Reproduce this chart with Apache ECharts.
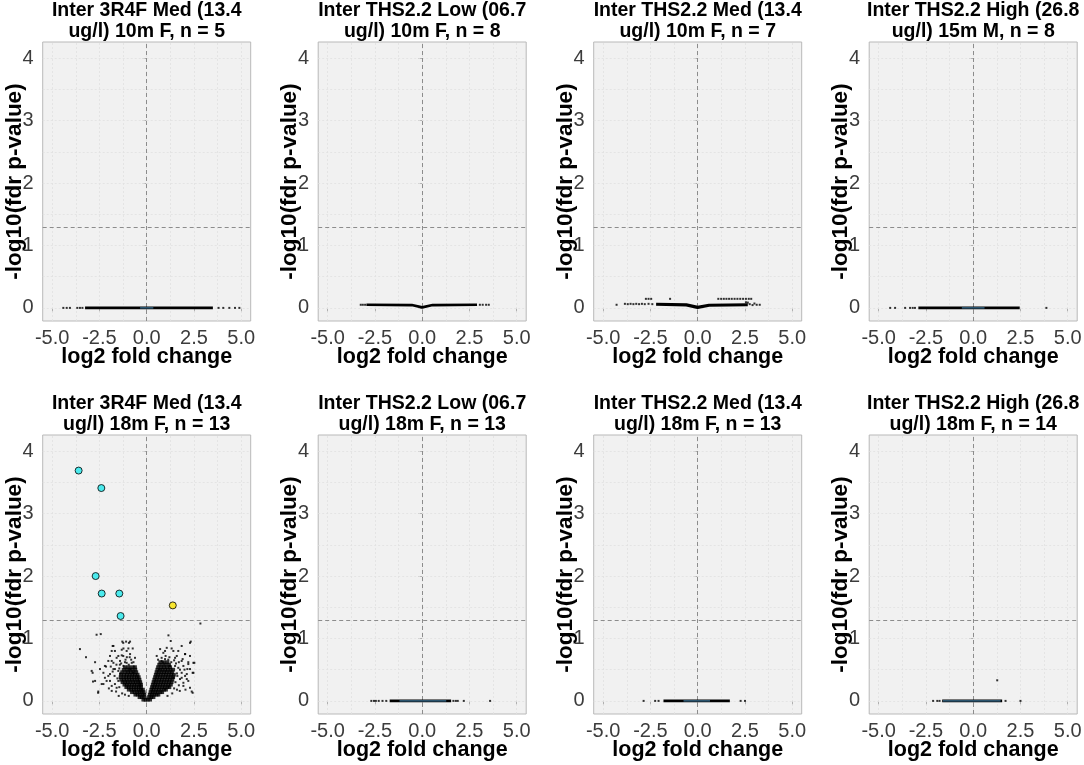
<!DOCTYPE html>
<html><head><meta charset="utf-8">
<script src="https://cdn.jsdelivr.net/npm/echarts@6/dist/echarts.min.js"></script>
<style>html,body{margin:0;padding:0;background:#fff}#c{width:1084px;height:765px}</style>
</head><body><div id="c"></div><script>
// ---------------- data ----------------
const panelTitles = [
  "Inter 3R4F Med (13.4\nug/l) 10m F, n = 5",
  "Inter THS2.2 Low (06.7\nug/l) 10m F, n = 8",
  "Inter THS2.2 Med (13.4\nug/l) 10m F, n = 7",
  "Inter THS2.2 High (26.8\nug/l) 15m M, n = 8",
  "Inter 3R4F Med (13.4\nug/l) 18m F, n = 13",
  "Inter THS2.2 Low (06.7\nug/l) 18m F, n = 13",
  "Inter THS2.2 Med (13.4\nug/l) 18m F, n = 13",
  "Inter THS2.2 High (26.8\nug/l) 18m F, n = 14"
];
const xTitle = "log2 fold change";
const yTitle = "-log10(fdr p-value)";
const xTicks = [-5, -2.5, 0, 2.5, 5];
const yTicks = [0, 1, 2, 3, 4];
const xMinorGrid = [-3.75, -1.25, 1.25, 3.75];
const yMinorGrid = [0.5, 1.5, 2.5, 3.5];
const xRange = [-5.5, 5.5];
const yRange = [-0.21, 4.26];
const fcLine = 0;
const sigLine = 1.3;

// panel 1
const p1Dense = [[-3.26, 0], [3.5, 0]];
const p1Sparse = [[-4.41, 0], [-4.23, 0], [-4.06, 0], [-3.67, 0], [-3.53, 0], [-3.4, 0], [3.8, 0], [4.05, 0], [4.37, 0], [4.67, 0], [4.9, 0]];
const p1Blue = [[-0.35, 0], [0.35, 0]];
// panel 2
const p2Dense = [[-2.95, 0.05], [-0.55, 0.045], [0, 0.008], [0.55, 0.045], [2.9, 0.05]];
const p2Sparse = [[-3.25, 0.05], [-3.14, 0.05], [-3.02, 0.05], [3.05, 0.05], [3.2, 0.05], [3.38, 0.05], [3.52, 0.05]];
// panel 3
const p3Dense = [[-2.2, 0.058], [-0.6, 0.048], [0, 0.008], [0.6, 0.042], [2.65, 0.05]];
const p3Sparse = [[-4.29, 0.05], [-3.85, 0.065], [-3.7, 0.06], [-3.55, 0.065], [-3.4, 0.06], [-3.25, 0.065], [-3.1, 0.06], [-2.95, 0.065], [-2.8, 0.06], [-2.6, 0.065], [-2.4, 0.06],
  [2.75, 0.06], [2.9, 0.045], [3.0, 0.07], [3.12, 0.05], [3.28, 0.05], [2.55, 0.09], [2.65, 0.085],
  [-2.74, 0.145], [-2.6, 0.145], [-2.46, 0.145], [-1.46, 0.145], [1.09, 0.145], [1.24, 0.145], [1.38, 0.145], [1.52, 0.145], [1.66, 0.145], [1.8, 0.145], [1.95, 0.145], [2.1, 0.145], [2.25, 0.145], [2.4, 0.145], [2.55, 0.145], [2.7, 0.145], [2.83, 0.145]];
// panel 4
const p4Dense = [[-2.9, 0], [2.46, 0]];
const p4Sparse = [[-4.39, 0], [-4.13, 0], [-3.6, 0], [-3.34, 0], [-3.2, 0], [-3.08, 0], [3.87, 0]];
const p4Blue = [[-0.6, 0], [0.6, 0]];
// panel 5
const p5Down = [[-3.6, 3.69], [-2.4, 3.41], [-2.7, 2.0], [-2.38, 1.72], [-1.45, 1.72], [-1.38, 1.36]];
const p5Up = [[1.38, 1.53]];
const p5Core = [
  [-0.18, 0.02], [-0.06, 0.02], [0.06, 0.02], [0.18, 0.02],
  [-0.38, 0.06], [-0.26, 0.06], [-0.14, 0.06], [0.12, 0.06], [0.24, 0.06], [0.36, 0.06],
  [-0.6, 0.10], [-0.48, 0.10], [-0.36, 0.10], [-0.22, 0.10], [-0.12, 0.10], [0.16, 0.10], [0.28, 0.10], [0.4, 0.10], [0.52, 0.10], [0.62, 0.10],
  [-0.78, 0.14], [-0.64, 0.14], [-0.5, 0.14], [-0.38, 0.14], [-0.26, 0.14], [-0.16, 0.14], [0.2, 0.14], [0.32, 0.14], [0.45, 0.14], [0.58, 0.14], [0.72, 0.14], [0.82, 0.14],
  [-0.95, 0.18], [-0.82, 0.18], [-0.68, 0.18], [-0.55, 0.18], [-0.42, 0.18], [-0.3, 0.18], [-0.2, 0.18], [0.24, 0.18], [0.36, 0.18], [0.5, 0.18], [0.64, 0.18], [0.78, 0.18], [0.92, 0.18], [1.02, 0.18],
  [-1.08, 0.22], [-0.95, 0.22], [-0.82, 0.22], [-0.68, 0.22], [-0.55, 0.22], [-0.42, 0.22], [-0.3, 0.22], [0.28, 0.22], [0.4, 0.22], [0.54, 0.22], [0.68, 0.22], [0.82, 0.22], [0.96, 0.22], [1.1, 0.22], [1.2, 0.22],
  [-1.18, 0.26], [-1.05, 0.26], [-0.92, 0.26], [-0.78, 0.26], [-0.65, 0.26], [-0.52, 0.26], [-0.38, 0.26], [-0.3, 0.26], [0.32, 0.26], [0.45, 0.26], [0.58, 0.26], [0.72, 0.26], [0.86, 0.26], [1.0, 0.26], [1.14, 0.26], [1.28, 0.26],
  [-1.28, 0.30], [-1.14, 0.30], [-1.0, 0.30], [-0.86, 0.30], [-0.72, 0.30], [-0.58, 0.30], [-0.45, 0.30], [-0.34, 0.30], [0.36, 0.30], [0.48, 0.30], [0.62, 0.30], [0.76, 0.30], [0.9, 0.30], [1.04, 0.30], [1.18, 0.30], [1.32, 0.30],
  [-1.35, 0.34], [-1.2, 0.34], [-1.06, 0.34], [-0.92, 0.34], [-0.78, 0.34], [-0.64, 0.34], [-0.5, 0.34], [-0.38, 0.34], [0.4, 0.34], [0.52, 0.34], [0.66, 0.34], [0.8, 0.34], [0.94, 0.34], [1.08, 0.34], [1.22, 0.34], [1.36, 0.34],
  [-1.38, 0.38], [-1.22, 0.38], [-1.08, 0.38], [-0.94, 0.38], [-0.8, 0.38], [-0.66, 0.38], [-0.52, 0.38], [-0.42, 0.38], [0.44, 0.38], [0.56, 0.38], [0.7, 0.38], [0.84, 0.38], [0.98, 0.38], [1.12, 0.38], [1.26, 0.38], [1.4, 0.38],
  [-1.36, 0.42], [-1.2, 0.42], [-1.05, 0.42], [-0.9, 0.42], [-0.76, 0.42], [-0.62, 0.42], [-0.48, 0.42], [0.48, 0.42], [0.6, 0.42], [0.74, 0.42], [0.88, 0.42], [1.02, 0.42], [1.16, 0.42], [1.3, 0.42], [1.44, 0.42],
  [-1.3, 0.46], [-1.12, 0.46], [-0.98, 0.46], [-0.84, 0.46], [-0.7, 0.46], [-0.55, 0.46], [0.52, 0.46], [0.64, 0.46], [0.78, 0.46], [0.92, 0.46], [1.06, 0.46], [1.2, 0.46], [1.34, 0.46],
  [-1.22, 0.50], [-1.05, 0.50], [-0.9, 0.50], [-0.75, 0.50], [-0.6, 0.50], [0.56, 0.50], [0.7, 0.50], [0.84, 0.50], [0.98, 0.50], [1.12, 0.50], [1.26, 0.50], [1.4, 0.50],
  [-1.15, 0.54], [-0.98, 0.54], [-0.8, 0.54], [-0.62, 0.54], [0.6, 0.54], [0.76, 0.54], [0.92, 0.54], [1.08, 0.54], [1.24, 0.54],
  [0.66, 0.58], [0.84, 0.58], [1.0, 0.58], [1.18, 0.58], [0.72, 0.62], [0.92, 0.62], [1.1, 0.62]
];
const p5Sparse = [
  [-2.65, 1.06], [-2.43, 1.07], [-3.53, 0.83], [-3.21, 0.70], [-2.73, 0.62], [-2.86, 0.45], [-2.84, 0.31], [-2.57, 0.13],
  [-2.15, 0.55], [-2.03, 0.40], [-1.85, 0.64], [-1.80, 0.88], [-1.68, 0.80], [-1.29, 0.95], [-1.09, 0.95], [-0.88, 0.95],
  [-1.23, 0.84], [-0.97, 0.84], [-0.74, 0.84], [-1.50, 0.72], [-1.32, 0.73], [-1.06, 0.61], [-0.79, 0.61], [-0.62, 0.69],
  [-1.76, 0.51], [-1.94, 0.32], [-1.68, 0.27], [-2.29, 0.27], [-1.50, 0.48], [-1.23, 0.56], [-0.88, 0.51], [-0.71, 0.45],
  [-1.24, 0.93], [-0.94, 0.93], [-1.76, 0.88], [-1.85, 0.80], [-1.32, 0.82], [-1.06, 0.80], [-1.94, 0.72], [-1.59, 0.69],
  [-1.24, 0.72], [-0.88, 0.75], [-2.03, 0.64], [-1.76, 0.61], [-1.41, 0.64], [-2.21, 0.56], [-2.47, 0.51], [-2.91, 0.48],
  [-2.73, 0.32], [-2.29, 0.45], [-1.94, 0.43], [-1.68, 0.51], [-2.12, 0.32], [-2.38, 0.27], [-2.56, 0.15], [-1.85, 0.24],
  [-1.85, 0.16], [-1.5, 0.32], [-1.59, 0.21], [-2.21, 0.37], [-1.42, 0.58], [-1.12, 0.66], [-0.7, 0.62],
  [-1.6, 0.58], [-1.45, 0.52], [-1.35, 0.6], [-1.15, 0.62], [-0.95, 0.58], [-0.82, 0.66], [-0.68, 0.55], [-1.05, 0.7],
  [-1.7, 0.4], [-1.55, 0.36], [-1.9, 0.55], [-1.62, 0.15], [-1.45, 0.22], [-1.3, 0.12], [-2.0, 0.2], [-0.9, 0.7],
  [-1.8, 0.47], [-1.4, 0.44], [-1.15, 0.1], [-1.48, 0.08], [-0.95, 0.08],
  [2.84, 1.24], [1.15, 1.05], [1.27, 0.96], [2.33, 0.95], [2.52, 0.61], [2.43, 0.45], [2.43, 0.13], [1.06, 0.85],
  [1.41, 0.80], [1.59, 0.72], [1.85, 0.88], [1.90, 0.67], [2.03, 0.75], [2.20, 0.59], [2.15, 0.51], [0.79, 0.64],
  [0.97, 0.67], [1.23, 0.56], [1.50, 0.56], [1.76, 0.50], [2.03, 0.40], [1.76, 0.35], [1.94, 0.29], [2.12, 0.35],
  [0.67, 0.51], [1.41, 0.37], [0.53, 0.72], [0.88, 0.77], [2.29, 0.93], [0.71, 0.83], [0.97, 0.80], [1.32, 0.84],
  [1.67, 0.80], [2.03, 0.75], [2.29, 0.72], [0.79, 0.69], [1.14, 0.66], [1.5, 0.69], [1.85, 0.64], [2.2, 0.62],
  [2.47, 0.61], [1.94, 0.56], [2.29, 0.51], [1.67, 0.53], [2.12, 0.43], [2.47, 0.45], [1.85, 0.37], [2.2, 0.32],
  [1.94, 0.24], [2.29, 0.21], [2.38, 0.15], [1.6, 0.44], [1.7, 0.25], [0.6, 0.66],
  [1.55, 0.6], [1.7, 0.62], [1.62, 0.4], [1.52, 0.3], [1.45, 0.2], [1.6, 0.18], [1.3, 0.62], [1.45, 0.65],
  [1.85, 0.45], [2.0, 0.5], [1.2, 0.7], [1.0, 0.72], [0.85, 0.62], [1.75, 0.16], [2.05, 0.18], [1.35, 0.12], [1.1, 0.08]
];
// panel 6
const p6Dense = [[-1.72, 0], [1.53, 0]];
const p6Sparse = [[-2.69, 0], [-2.55, 0], [-2.45, 0], [-2.3, 0], [-2.1, 0], [-1.9, 0], [1.65, 0], [1.78, 0], [1.88, 0], [2.2, 0], [3.59, 0]];
const p6Blue = [[-1.2, 0], [1.27, 0]];
// panel 7
const p7Dense = [[-1.81, 0], [1.70, 0]];
const p7Sparse = [[-2.86, 0], [-2.25, 0], [-2.07, 0], [2.27, 0], [2.5, 0]];
const p7Blue = [[-0.75, 0], [0.65, 0]];
// panel 8
const p8Dense = [[-1.64, 0], [1.53, 0]];
const p8Sparse = [[-2.12, 0], [-1.9, 0], [-1.78, 0], [1.71, 0], [2.5, 0], [1.27, 0.33]];
const p8Blue = [[-1.6, 0], [1.45, 0]];

const panels = [
  {dense: p1Dense, sparse: p1Sparse, blue: p1Blue},
  {dense: p2Dense, sparse: p2Sparse},
  {dense: p3Dense, sparse: p3Sparse, thick: true},
  {dense: p4Dense, sparse: p4Sparse, blue: p4Blue},
  {core: p5Core, sparse: p5Sparse, down: p5Down, up: p5Up},
  {dense: p6Dense, sparse: p6Sparse, blue: p6Blue},
  {dense: p7Dense, sparse: p7Sparse, blue: p7Blue},
  {dense: p8Dense, sparse: p8Sparse, blue: p8Blue}
];

// ---------------- layout / style ----------------
const FONT = '"Liberation Sans", Arial, Helvetica, sans-serif';
const colLeft = [42.7, 318.2, 593.7, 869.2];
const plotW = 208;
const rowTop = [42, 435];
const plotH = 279;

const grids = [], xAxes = [], yAxes = [], series = [], graphics = [];
panels.forEach((p, i) => {
  const r = Math.floor(i / 4), c = i % 4;
  const left = colLeft[c], top = rowTop[r];
  grids.push({left: left, top: top, width: plotW, height: plotH, containLabel: false, outerBoundsMode: 'none',
    show: true, backgroundColor: '#f1f1f1', borderColor: '#b9b9b9', borderWidth: 1});
  xAxes.push({gridIndex: i, type: 'value', min: xRange[0], max: xRange[1],
    axisLine: {show: false},
    axisTick: {show: true, customValues: xTicks, length: 4, inside: false, lineStyle: {color: '#b0b0b0', width: 1}},
    axisLabel: {show: true, customValues: xTicks, formatter: v => Number(v).toFixed(1), fontSize: 20, color: '#3c3c3c', fontFamily: FONT, margin: 7},
    splitLine: {show: false},
    name: xTitle, nameLocation: 'middle', nameGap: 25, nameMoveOverlap: false,
    nameTextStyle: {fontSize: 21.5, fontWeight: 'bold', color: '#000', fontFamily: FONT}});
  yAxes.push({gridIndex: i, type: 'value', min: yRange[0], max: yRange[1],
    axisLine: {show: false},
    axisTick: {show: true, customValues: yTicks, length: 4, inside: false, lineStyle: {color: '#b0b0b0', width: 1}},
    axisLabel: {show: true, customValues: yTicks, formatter: v => String(Math.round(v)), fontSize: 20, color: '#3c3c3c', fontFamily: FONT, margin: 9},
    splitLine: {show: false},
    name: yTitle, nameLocation: 'middle', nameGap: 16.5, nameRotate: 90, nameMoveOverlap: false,
    nameTextStyle: {fontSize: 22.5, fontWeight: 'bold', color: '#000', fontFamily: FONT}});

  const gridLines = [];
  xTicks.concat(xMinorGrid).forEach(v => gridLines.push({xAxis: v}));
  yTicks.concat(yMinorGrid).forEach(v => gridLines.push({yAxis: v}));
  series.push({type: 'line', xAxisIndex: i, yAxisIndex: i, data: [], silent: true, z: 1,
    markLine: {silent: true, symbol: 'none', z: 1, label: {show: false}, animation: false,
      lineStyle: {color: '#e1e1e1', width: 0.8, type: [2, 2]}, data: gridLines}});
  series.push({type: 'line', xAxisIndex: i, yAxisIndex: i, data: [], silent: true, z: 2,
    markLine: {silent: true, symbol: 'none', z: 2, label: {show: false}, animation: false,
      lineStyle: {color: '#8c8c8c', width: 1, type: [4, 3]}, data: [{xAxis: fcLine}, {yAxis: sigLine}]}});

  if (p.dense) series.push({type: 'line', xAxisIndex: i, yAxisIndex: i, data: p.dense, symbol: 'none', z: 3,
    lineStyle: {color: '#000', width: p.thick ? 3.2 : 2.6}, silent: true});
  if (p.core) series.push({type: 'scatter', xAxisIndex: i, yAxisIndex: i, data: p.core, symbol: 'rect', symbolSize: 3.8, z: 3,
    itemStyle: {color: '#000'}, silent: true});
  if (p.sparse) series.push({type: 'scatter', xAxisIndex: i, yAxisIndex: i, data: p.sparse, symbol: 'rect', symbolSize: 2, z: 3,
    itemStyle: {color: '#000'}, silent: true});
  if (p.blue) series.push({type: 'line', xAxisIndex: i, yAxisIndex: i, data: p.blue, symbol: 'none', z: 4,
    lineStyle: {color: '#5cb0e6', width: 0.8}, silent: true});
  if (p.down) series.push({type: 'scatter', xAxisIndex: i, yAxisIndex: i, data: p.down, symbol: 'circle', symbolSize: 7, z: 5,
    itemStyle: {color: '#22e8ec', borderColor: '#000', borderWidth: 1}, silent: true});
  if (p.up) series.push({type: 'scatter', xAxisIndex: i, yAxisIndex: i, data: p.up, symbol: 'circle', symbolSize: 7, z: 5,
    itemStyle: {color: '#fae400', borderColor: '#000', borderWidth: 1}, silent: true});

  graphics.push({type: 'text', x: left + plotW / 2, y: r === 0 ? 0 : 393, silent: true,
    style: {text: panelTitles[i], fill: '#000', font: 'bold 19.5px ' + FONT, textAlign: 'center', align: 'center',
      textVerticalAlign: 'top', verticalAlign: 'top', lineHeight: 21}});
});

const chart = echarts.init(document.getElementById('c'), null, {renderer: 'canvas'});
chart.setOption({
  animation: false,
  backgroundColor: '#ffffff',
  grid: grids, xAxis: xAxes, yAxis: yAxes, series: series, graphic: graphics
});
</script></body></html>
